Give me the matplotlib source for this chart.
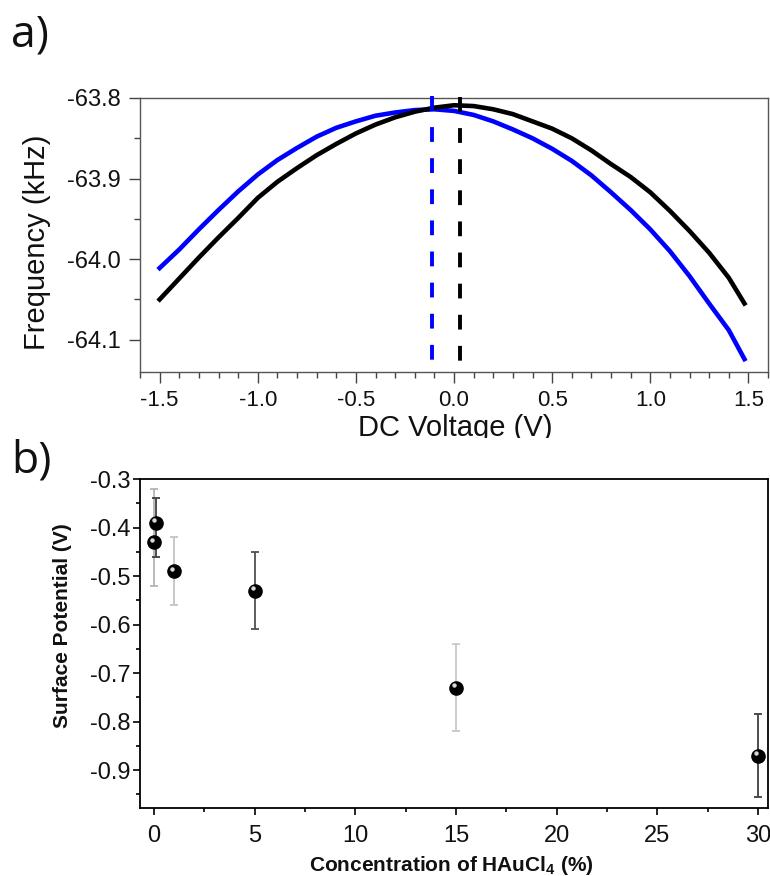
import matplotlib
matplotlib.use('Agg')
import matplotlib.pyplot as plt
from matplotlib.patches import Rectangle
from matplotlib.transforms import ScaledTranslation
from matplotlib.ticker import MultipleLocator

plt.rcParams['font.family'] = ['Liberation Sans', 'DejaVu Sans']
plt.rcParams['axes.unicode_minus'] = False
plt.rcParams['mathtext.fontset'] = 'custom'
plt.rcParams['mathtext.rm'] = 'Liberation Sans'
plt.rcParams['mathtext.bf'] = 'Liberation Sans:bold'

# ---------------- data: panel a ----------------
voltage = [-1.5, -1.4, -1.3, -1.2, -1.1, -1.0, -0.9, -0.8, -0.7, -0.6, -0.5,
           -0.4, -0.3, -0.2, -0.1, 0.0, 0.1, 0.2, 0.3, 0.4, 0.5, 0.6, 0.7,
           0.8, 0.9, 1.0, 1.1, 1.2, 1.3, 1.4, 1.48]
freq_black = [-64.050, -64.024, -63.998, -63.973, -63.949, -63.924, -63.904,
              -63.887, -63.871, -63.857, -63.844, -63.833, -63.824, -63.817,
              -63.812, -63.809, -63.810, -63.814, -63.820, -63.829, -63.838,
              -63.850, -63.865, -63.882, -63.898, -63.917, -63.940, -63.965,
              -63.992, -64.023, -64.055]
freq_blue = [-64.011, -63.988, -63.963, -63.939, -63.916, -63.895, -63.877,
             -63.862, -63.848, -63.837, -63.829, -63.822, -63.818, -63.815,
             -63.814, -63.816, -63.821, -63.829, -63.839, -63.850, -63.863,
             -63.878, -63.896, -63.917, -63.939, -63.963, -63.990, -64.021,
             -64.055, -64.088, -64.124]
peak_voltage = [-0.11, 0.03]
peak_colors = ['#0000ff', '#000000']
peak_top = [-63.797, -63.799]
peak_bottom = [-64.131, -64.131]
xticks_a = [-1.5, -1.0, -0.5, 0.0, 0.5, 1.0, 1.5]
xticklabels_a = ['-1.5', '-1.0', '-0.5', '0.0', '0.5', '1.0', '1.5']
yticks_a = [-63.8, -63.9, -64.0, -64.1]
yticklabels_a = ['-63.8', '-63.9', '-64.0', '-64.1']

# ---------------- data: panel b ----------------
conc = [0, 0.1, 1, 5, 15, 30]
potential = [-0.43, -0.39, -0.49, -0.53, -0.73, -0.87]
err_low = [-0.52, -0.46, -0.56, -0.61, -0.82, -0.955]
err_high = [-0.32, -0.34, -0.42, -0.45, -0.64, -0.785]
err_colors = ['#b4b4b4', '#404040', '#c4c4c4', '#505050', '#c8c8c8', '#404040']
xticks_b = [0, 5, 10, 15, 20, 25, 30]
xticklabels_b = ['0', '5', '10', '15', '20', '25', '30']
yticks_b = [-0.3, -0.4, -0.5, -0.6, -0.7, -0.8, -0.9]
yticklabels_b = ['-0.3', '-0.4', '-0.5', '-0.6', '-0.7', '-0.8', '-0.9']

W, H = 770, 876
fig = plt.figure(figsize=(7.7, 8.76), dpi=100)


def fx(px):
    return px / W


def fy(py):
    return 1 - py / H


# ---------------- panel a ----------------
axA = fig.add_axes([fx(140), fy(372), fx(768) - fx(140), fy(98) - fy(372)])
axA.plot(voltage, freq_blue, color='#0000ff', lw=3.3, zorder=3)
axA.plot(voltage, freq_black, color='black', lw=3.3, zorder=3)
for v, c, t, b in zip(peak_voltage, peak_colors, peak_top, peak_bottom):
    axA.plot([v, v], [t, b], color=c, lw=2.8, ls=(0, (3.8, 4.2)), clip_on=False, zorder=4)
axA.set_xlim(-1.6, 1.6)
axA.set_ylim(-64.14, -63.8)
axA.set_xticks(xticks_a)
axA.set_xticklabels(xticklabels_a)
axA.set_yticks(yticks_a)
axA.set_yticklabels(yticklabels_a)
axA.xaxis.set_minor_locator(MultipleLocator(0.1))
axA.yaxis.set_minor_locator(MultipleLocator(0.05))
axA.tick_params(which='major', direction='out', length=8, width=1, color='#444')
axA.tick_params(which='minor', direction='out', length=4, width=1, color='#444')
axA.tick_params(axis='x', labelsize=16, pad=5, labelcolor='#111')
axA.tick_params(axis='y', labelsize=17, pad=6, labelcolor='#111')
for s in axA.spines.values():
    s.set_color('#555')
    s.set_linewidth(1)

# ---------------- panel b ----------------
axB = fig.add_axes([fx(140), fy(808), fx(768) - fx(140), fy(479) - fy(808)])
for x, y, lo, hi, c in zip(conc, potential, err_low, err_high, err_colors):
    axB.errorbar([x], [y], yerr=[[y - lo], [hi - y]], fmt='none', ecolor=c,
                 elinewidth=1.3, capsize=3, capthick=1.3, zorder=3)
axB.plot(conc, potential, 'o', ms=9.5, color='black', mec='black', zorder=4)
hl = axB.transData + ScaledTranslation(-1.6 / 72, 1.6 / 72, fig.dpi_scale_trans)
axB.plot(conc, potential, 'o', ms=3.2, color='white', mec='none', alpha=0.85,
         transform=hl, zorder=5)
axB.set_xlim(-0.7, 30.5)
axB.set_ylim(-0.978, -0.3)
axB.set_xticks(xticks_b)
axB.set_xticklabels(xticklabels_b)
axB.set_yticks(yticks_b)
axB.set_yticklabels(yticklabels_b)
axB.xaxis.set_minor_locator(MultipleLocator(2.5))
axB.yaxis.set_minor_locator(MultipleLocator(0.05))
axB.tick_params(which='major', direction='out', length=5, width=1.2, color='black')
axB.tick_params(which='minor', direction='out', length=3, width=1.2, color='black')
axB.tick_params(axis='x', labelsize=17, pad=7, labelcolor='#111')
axB.tick_params(axis='y', labelsize=17, pad=2, labelcolor='#111')
for s in axB.spines.values():
    s.set_color('black')
    s.set_linewidth(1.3)

# ---------------- texts ----------------
fig.text(fx(11), fy(47), 'a)', fontsize=32, family=['Open Sans', 'DejaVu Sans'],
         ha='left', va='baseline', color='#111')
fig.text(fx(11), fy(472), 'b)', fontsize=32, family=['Open Sans', 'DejaVu Sans'],
         ha='left', va='baseline', color='#111')
fig.text(fx(37), fy(242), 'Frequency (kHz)', rotation=90, fontsize=21,
         ha='center', va='center', color='#111')
fig.text(fx(455), fy(436), 'DC Voltage (V)', fontsize=21, ha='center',
         va='baseline', color='#111')
# the label of panel a is cut off at its bottom in the reference
fig.add_artist(Rectangle((fx(300), fy(462)), fx(620) - fx(300), fy(438) - fy(462),
                         transform=fig.transFigure, facecolor='white',
                         edgecolor='none', zorder=10))
fig.text(fx(62), fy(626), 'Surface Potential (V)', rotation=90, fontsize=15,
         fontweight='bold', ha='center', va='center', color='#111')
fig.text(fx(451), fy(871), r'Concentration of HAuCl$_{\mathbf{4}}$ (%)',
         fontsize=15, fontweight='bold', ha='center', va='baseline', color='#111')

fig.savefig('out.png', dpi=100)
